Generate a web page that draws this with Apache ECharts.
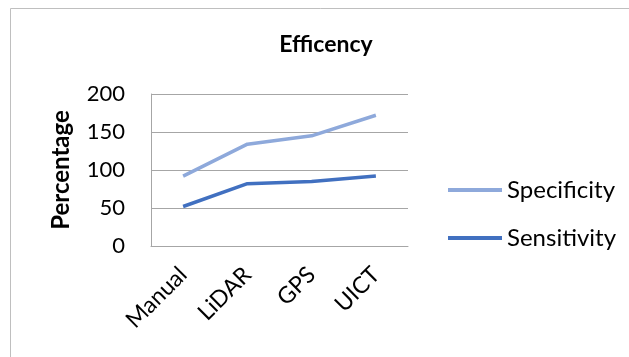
<!DOCTYPE html>
<html>
<head>
<meta charset="utf-8">
<script src="https://cdn.jsdelivr.net/npm/echarts@6/dist/echarts.min.js"></script>
<style>html,body{margin:0;padding:0;background:#fff;}#c{width:629px;height:357px;}</style>
</head>
<body>
<div id="c"></div>
<script>
const categories = ['Manual', 'LiDAR', 'GPS', 'UICT'];
const specificity = [92, 134, 145, 172];
const sensitivity = [52, 82, 85, 92];
const yTicks = { min: 0, max: 200, interval: 50 };

const FONT = 'Lato';
const chart = echarts.init(document.getElementById('c'), null, { renderer: 'canvas' });
chart.setOption({
  animation: false,
  backgroundColor: '#fff',
  textStyle: { fontFamily: FONT, color: '#000' },
  graphic: [{
    type: 'rect', shape: { x: 10.5, y: 8.5, width: 640, height: 400 },
    style: { fill: 'none', stroke: '#BFBFBF', lineWidth: 1 }, silent: true, z: -1
  }],
  title: {
    text: 'Efficency', left: 326, top: 33, textAlign: 'center', padding: 0,
    textStyle: { fontFamily: FONT, fontSize: 23, fontWeight: 'bold', color: '#000' }
  },
  legend: {
    orient: 'vertical', left: 448, top: 178, itemGap: 24, padding: 0,
    icon: 'rect', itemWidth: 54, itemHeight: 4,
    textStyle: { fontFamily: FONT, fontSize: 24, color: '#000', lineHeight: 24 },
    data: ['Specificity', 'Sensitivity']
  },
  grid: { left: 151, right: 221, top: 94, bottom: 111, containLabel: false },
  xAxis: {
    type: 'category', data: categories, boundaryGap: true,
    axisLine: { show: true, lineStyle: { color: '#A6A6A6', width: 1 } },
    axisTick: { show: false },
    axisLabel: { rotate: 45, margin: 25, fontFamily: FONT, fontSize: 23, color: '#000' }
  },
  yAxis: {
    type: 'value', min: yTicks.min, max: yTicks.max, interval: yTicks.interval,
    name: 'Percentage', nameLocation: 'middle', nameGap: 78, nameRotate: 90,
    nameTextStyle: { fontFamily: FONT, fontSize: 24, fontWeight: 'bold', color: '#000' },
    axisLine: { show: true, lineStyle: { color: '#A6A6A6', width: 1 } },
    axisTick: { show: false },
    axisLabel: { margin: 26, fontFamily: FONT, fontSize: 22, color: '#000' },
    splitLine: { show: true, lineStyle: { color: '#A6A6A6', width: 1 } }
  },
  series: [
    { name: 'Specificity', type: 'line', data: specificity, symbol: 'none',
      lineStyle: { color: '#8EA9DB', width: 3.5 }, itemStyle: { color: '#8EA9DB' } },
    { name: 'Sensitivity', type: 'line', data: sensitivity, symbol: 'none',
      lineStyle: { color: '#4170C0', width: 3.5 }, itemStyle: { color: '#4170C0' } }
  ]
});
</script>
</body>
</html>
